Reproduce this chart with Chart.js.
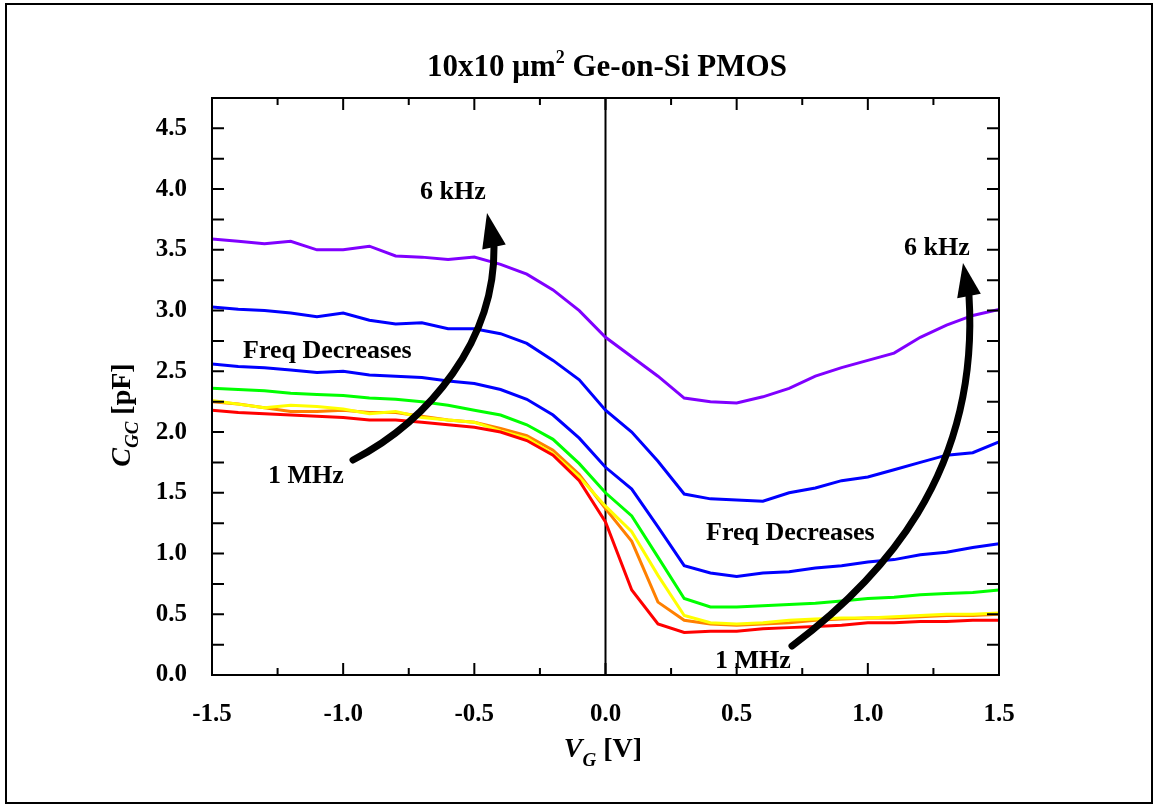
<!DOCTYPE html>
<html>
<head>
<meta charset="utf-8">
<title>Ge-on-Si PMOS C-V</title>
<script src="https://cdn.jsdelivr.net/npm/chart.js@4.4.1/dist/chart.umd.min.js"></script>
<style>
  html, body { margin: 0; padding: 0; background: #fff; }
  canvas { display: block; }
</style>
</head>
<body>
<canvas id="cv" width="1158" height="807"></canvas>
<script>
// gate voltage sweep [V]
const vg = [-1.5, -1.4, -1.3, -1.2, -1.1, -1.0, -0.9, -0.8, -0.7, -0.6, -0.5, -0.4, -0.3, -0.2, -0.1,
  0.0, 0.1, 0.2, 0.3, 0.4, 0.5, 0.6, 0.7, 0.8, 0.9, 1.0, 1.1, 1.2, 1.3, 1.4, 1.5]

// C_GC [pF], 6 kHz (top) down to 1 MHz (bottom)
const cPurple = [3.59, 3.57, 3.55, 3.57, 3.50, 3.50, 3.53, 3.45, 3.44, 3.42, 3.44, 3.38, 3.30, 3.17, 3.00,
  2.78, 2.62, 2.46, 2.28, 2.25, 2.24, 2.29, 2.36, 2.46, 2.53, 2.59, 2.65, 2.78, 2.88, 2.96, 3.01]
const cBlue1 = [3.03, 3.01, 3.00, 2.98, 2.95, 2.98, 2.92, 2.89, 2.90, 2.85, 2.85, 2.81, 2.73, 2.59, 2.43,
  2.18, 2.00, 1.76, 1.49, 1.45, 1.44, 1.43, 1.50, 1.54, 1.60, 1.63, 1.69, 1.75, 1.81, 1.83, 1.92]
const cBlue2 = [2.56, 2.54, 2.53, 2.51, 2.49, 2.50, 2.47, 2.46, 2.45, 2.42, 2.40, 2.35, 2.27, 2.14, 1.95,
  1.71, 1.53, 1.22, 0.90, 0.84, 0.81, 0.84, 0.85, 0.88, 0.90, 0.93, 0.95, 0.99, 1.01, 1.05, 1.08]
const cGreen = [2.36, 2.35, 2.34, 2.32, 2.31, 2.30, 2.28, 2.27, 2.25, 2.22, 2.18, 2.14, 2.06, 1.94, 1.74,
  1.50, 1.31, 0.97, 0.63, 0.56, 0.56, 0.57, 0.58, 0.59, 0.61, 0.63, 0.64, 0.66, 0.67, 0.68, 0.70]
const cOrange = [2.25, 2.23, 2.20, 2.17, 2.17, 2.18, 2.16, 2.16, 2.13, 2.10, 2.08, 2.03, 1.97, 1.85, 1.65,
  1.37, 1.10, 0.60, 0.45, 0.42, 0.41, 0.42, 0.43, 0.45, 0.46, 0.47, 0.47, 0.48, 0.49, 0.49, 0.50]
const cYellow = [2.26, 2.23, 2.20, 2.22, 2.21, 2.19, 2.15, 2.17, 2.12, 2.10, 2.08, 2.01, 1.95, 1.82, 1.63,
  1.39, 1.18, 0.82, 0.49, 0.43, 0.42, 0.43, 0.45, 0.46, 0.47, 0.47, 0.48, 0.49, 0.50, 0.50, 0.51]
const cRed = [2.18, 2.16, 2.15, 2.14, 2.13, 2.12, 2.10, 2.10, 2.08, 2.06, 2.04, 2.00, 1.93, 1.81, 1.60,
  1.26, 0.70, 0.42, 0.35, 0.36, 0.36, 0.38, 0.39, 0.40, 0.41, 0.43, 0.43, 0.44, 0.44, 0.45, 0.45]

const FONT = "'Liberation Serif', 'Times New Roman', serif"

function pts(arr) {
  return vg.map((v, i) => ({ x: v, y: arr[i] }))
}

function isMajor(v) {
  return Math.abs(v * 2 - Math.round(v * 2)) < 1e-6
}

function series(data, color) {
  return {
    data: pts(data),
    borderColor: color,
    borderWidth: 3,
    pointRadius: 0,
    tension: 0,
    fill: false
  }
}

// draws a list of [text, style, dy] parts on one baseline, centred on x
function drawParts(ctx, parts, x, y) {
  let total = 0
  parts.forEach(p => { ctx.font = p[1]; total += ctx.measureText(p[0]).width })
  let cx = x - total / 2
  parts.forEach(p => {
    ctx.font = p[1]
    ctx.fillText(p[0], cx, y + p[2])
    cx += ctx.measureText(p[0]).width
  })
}

function arrow(ctx, p0, c1, c2, p3, tip) {
  ctx.save()
  ctx.strokeStyle = '#000'
  ctx.fillStyle = '#000'
  ctx.lineWidth = 7
  ctx.lineCap = 'round'
  ctx.beginPath()
  ctx.moveTo(p0[0], p0[1])
  ctx.bezierCurveTo(c1[0], c1[1], c2[0], c2[1], p3[0], p3[1])
  ctx.stroke()
  const dx = tip[0] - p3[0], dy = tip[1] - p3[1]
  const len = Math.hypot(dx, dy)
  const px = -dy / len * 12, py = dx / len * 12
  ctx.beginPath()
  ctx.moveTo(tip[0], tip[1])
  ctx.lineTo(p3[0] + px, p3[1] + py)
  ctx.lineTo(p3[0] - px, p3[1] - py)
  ctx.closePath()
  ctx.fill()
  ctx.restore()
}

const decor = {
  id: 'decor',
  beforeDatasetsDraw(chart) {
    const ctx = chart.ctx
    const a = chart.chartArea
    const x0 = chart.scales.x.getPixelForValue(0)
    ctx.save()
    ctx.strokeStyle = '#000'
    ctx.lineWidth = 2
    ctx.beginPath()
    ctx.moveTo(x0, a.top)
    ctx.lineTo(x0, a.bottom)
    ctx.stroke()
    ctx.restore()
  },
  afterDatasetsDraw(chart) {
    const ctx = chart.ctx
    const a = chart.chartArea
    const xs = chart.scales.x
    const ys = chart.scales.y
    ctx.save()

    // outer frame of the figure
    ctx.strokeStyle = '#000'
    ctx.lineWidth = 2
    ctx.strokeRect(6, 4, 1146, 799)

    // plot box
    ctx.strokeRect(a.left, a.top, a.right - a.left, a.bottom - a.top)

    // inward ticks on all four sides
    ctx.beginPath()
    xs.ticks.forEach(t => {
      const px = xs.getPixelForValue(t.value)
      const l = isMajor(t.value) ? 12 : 7
      ctx.moveTo(px, a.bottom); ctx.lineTo(px, a.bottom - l)
      ctx.moveTo(px, a.top); ctx.lineTo(px, a.top + l)
    })
    ys.ticks.forEach(t => {
      const py = ys.getPixelForValue(t.value)
      ctx.moveTo(a.left, py); ctx.lineTo(a.left + 12, py)
      ctx.moveTo(a.right, py); ctx.lineTo(a.right - 12, py)
    })
    ctx.stroke()

    // title
    ctx.fillStyle = '#000'
    ctx.textAlign = 'left'
    ctx.textBaseline = 'alphabetic'
    const tb = 'bold 31px ' + FONT
    drawParts(ctx, [['10x10 \u03bcm', tb, 0], ['2', 'bold 18px ' + FONT, -13], [' Ge-on-Si PMOS', tb, 0]], 607, 76)

    // axis titles
    drawParts(ctx, [['V', 'italic bold 28px ' + FONT, 0], ['G', 'italic bold 19px ' + FONT, 9],
      [' [V]', 'bold 28px ' + FONT, 0]], 603, 757)
    ctx.save()
    ctx.translate(130, 415)
    ctx.rotate(-Math.PI / 2)
    drawParts(ctx, [['C', 'italic bold 28px ' + FONT, 0], ['GC', 'italic bold 19px ' + FONT, 8],
      [' [pF]', 'bold 28px ' + FONT, 0]], 0, 0)
    ctx.restore()

    // annotations
    ctx.font = 'bold 26px ' + FONT
    ctx.fillText('6 kHz', 420, 199)
    ctx.fillText('Freq Decreases', 243, 358)
    ctx.fillText('1 MHz', 268, 483)
    ctx.fillText('6 kHz', 904, 255)
    ctx.fillText('Freq Decreases', 706, 540)
    ctx.fillText('1 MHz', 715, 668)

    arrow(ctx, [353, 460], [430, 420], [495, 340], [494, 247], [487, 213])
    arrow(ctx, [792, 646], [880, 580], [980, 475], [969, 296], [963, 263])

    ctx.restore()
  }
}

new Chart(document.getElementById('cv'), {
  type: 'line',
  data: {
    datasets: [
      series(cRed, '#ff0000'),
      series(cYellow, '#ffff00'),
      series(cOrange, '#ff8000'),
      series(cGreen, '#00ff00'),
      series(cBlue2, '#0000ff'),
      series(cBlue1, '#0000ff'),
      series(cPurple, '#8000ff')
    ]
  },
  options: {
    responsive: false,
    devicePixelRatio: 1,
    animation: false,
    layout: { padding: { left: 0, right: 159, top: 98, bottom: 0 } },
    plugins: {
      legend: { display: false },
      tooltip: { enabled: false }
    },
    scales: {
      x: {
        type: 'linear',
        min: -1.5,
        max: 1.5,
        grid: { display: false },
        border: { display: false },
        ticks: {
          stepSize: 0.25,
          autoSkip: false,
          maxRotation: 0,
          padding: 17,
          color: '#000',
          font: { family: FONT, size: 25, weight: 'bold' },
          callback: v => isMajor(v) ? v.toFixed(1) : ''
        },
        afterFit: s => { s.height = 132 }
      },
      y: {
        type: 'linear',
        min: 0,
        max: 4.75,
        grid: { display: false },
        border: { display: false },
        ticks: {
          stepSize: 0.25,
          autoSkip: false,
          padding: 17,
          color: '#000',
          font: { family: FONT, size: 25, weight: 'bold' },
          callback: v => isMajor(v) ? v.toFixed(1) : ''
        },
        afterFit: s => { s.width = 212 }
      }
    }
  },
  plugins: [decor]
})
</script>
</body>
</html>
